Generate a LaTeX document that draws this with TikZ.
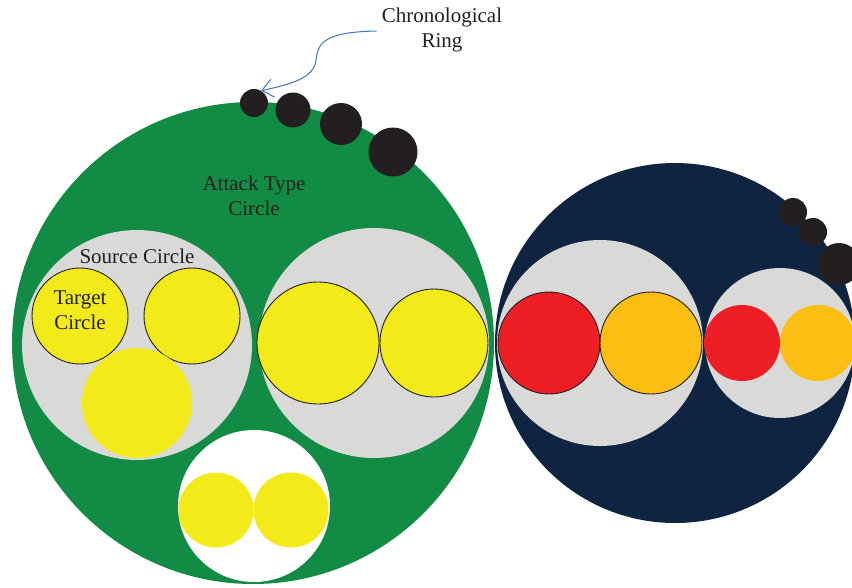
\documentclass[tikz,border=0pt]{standalone}
\usepackage{fontspec}
\setmainfont{Liberation Serif}
\usetikzlibrary{arrows.meta}

\definecolor{attackgreen}{RGB}{18,140,68}
\definecolor{attacknavy}{RGB}{15,36,64}
\definecolor{sourcegray}{RGB}{217,217,216}
\definecolor{targetyellow}{RGB}{243,234,26}
\definecolor{targetred}{RGB}{237,31,36}
\definecolor{targetorange}{RGB}{253,190,20}
\definecolor{ringblack}{RGB}{35,31,32}
\definecolor{arrowblue}{RGB}{68,114,196}

\begin{document}
\begin{tikzpicture}[x=1pt,y=-1pt,
    disc/.style={circle,inner sep=0pt,minimum size=#1},
    edged/.style={draw=ringblack,line width=0.9pt},
    tag/.style={align=center,text=ringblack,inner sep=1pt,font=\fontsize{21}{25.5}\selectfont},
    arrow/.style={-{Straight Barb[length=11pt,width=18pt]},arrowblue,line width=1pt}
]
\clip (0,0) rectangle (852,587);

% Attack type circles
\node[disc=482,fill=attackgreen] (attack1) at (253,343) {};
\node[disc=360,fill=attacknavy] (attack2) at (675,343) {};

% Source circles
\node[disc=230,fill=sourcegray] (source1) at (137,345) {};
\node[disc=230,fill=sourcegray] (source2) at (374,343) {};
\node[disc=152,fill=white] (source3) at (254,506) {};
\node[disc=206,fill=sourcegray] (source4) at (600,343) {};
\node[disc=150,fill=sourcegray] (source5) at (780,343) {};

% Target circles
\node[disc=96,fill=targetyellow,edged] (target1) at (80,316) {};
\node[disc=96,fill=targetyellow,edged] (target2) at (192,316) {};
\node[disc=110,fill=targetyellow] (target3) at (137,403) {};
\node[disc=122,fill=targetyellow,edged] (target4) at (318,343) {};
\node[disc=108,fill=targetyellow,edged] (target5) at (434,343) {};
\node[disc=75,fill=targetyellow] (target6) at (216,510) {};
\node[disc=75,fill=targetyellow] (target7) at (291,510) {};
\node[disc=102,fill=targetred,edged] (target8) at (549,343) {};
\node[disc=102,fill=targetorange,edged] (target9) at (651,343) {};
\node[disc=76,fill=targetred] (target10) at (742,343) {};
\node[disc=76,fill=targetorange] (target11) at (818,343) {};

% Chronological rings
\node[disc=28,fill=ringblack] (ring1) at (254,103) {};
\node[disc=35,fill=ringblack] (ring2) at (293,110) {};
\node[disc=42,fill=ringblack] (ring3) at (341,124) {};
\node[disc=49,fill=ringblack] (ring4) at (393,152) {};
\node[disc=28,fill=ringblack] (ring5) at (793,212) {};
\node[disc=28,fill=ringblack] (ring6) at (813,232) {};
\node[disc=42,fill=ringblack] (ring7) at (839,264) {};

% Labels
\node[tag] (chrono) at (442,30) {Chronological\\Ring};
\node[tag] (attacklbl) at (254,196) {Attack Type\\Circle};
\node[tag] (sourcelbl) at (137,256) {Source Circle};
\node[tag] (targetlbl) at (80,310) {Target\\Circle};

\draw[arrow] (chrono.west) ++(-4,1) .. controls (322,32) and (318,44) .. (316,60)
    .. controls (314,78) and (292,84) .. (ring1.60);
\end{tikzpicture}
\end{document}
